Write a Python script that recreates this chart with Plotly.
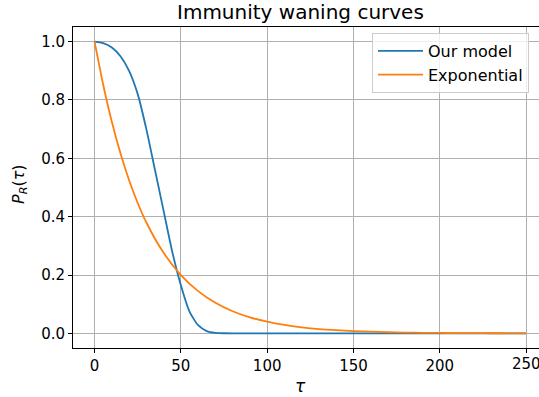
import plotly.graph_objects as go

# ---- data ----
tau_model = [0, 5, 10, 15, 20, 25, 30, 35, 40, 45, 50, 55, 60, 65, 70, 75, 80, 90, 100,
             125, 150, 175, 200, 225, 250]
p_model = [1.0, 0.995, 0.98, 0.95, 0.90, 0.82, 0.70, 0.56, 0.42, 0.28, 0.165, 0.075,
           0.028, 0.008, 0.002, 0.0005, 0.0, 0.0, 0.0, 0.0, 0.0, 0.0, 0.0, 0.0, 0.0]

tau_exp = [0, 5, 10, 15, 20, 25, 30, 40, 50, 60, 70, 80, 90, 100, 110, 120, 130, 140, 150,
           160, 170, 180, 190, 200, 210, 220, 230, 240, 250]
p_exp = [1.0, 0.852, 0.725, 0.617, 0.525, 0.447, 0.38, 0.276, 0.2, 0.145, 0.105, 0.076,
         0.055, 0.04, 0.029, 0.021, 0.015, 0.011, 0.008, 0.006, 0.004, 0.003, 0.002,
         0.0016, 0.0012, 0.0008, 0.0006, 0.0004, 0.0003]

series_names = ["Our model", "Exponential"]
x_ticks = [0, 50, 100, 150, 200, 250]
y_ticks = [0.0, 0.2, 0.4, 0.6, 0.8, 1.0]

FONT = "DejaVu Sans"
W, H = 539, 397
L, R, T, B = 73, 0, 27, 49
PW, PH = W - L - R, H - T - B

fig = go.Figure()
fig.add_trace(go.Scatter(x=tau_model, y=p_model, mode="lines", name=series_names[0],
                         line=dict(color="#1f77b4", width=1.8, shape="spline", smoothing=0.6)))
fig.add_trace(go.Scatter(x=tau_exp, y=p_exp, mode="lines", name=series_names[1],
                         line=dict(color="#ff7f0e", width=1.8, shape="spline", smoothing=0.6)))

axis_common = dict(showgrid=True, gridcolor="#b0b0b0", gridwidth=0.8,
                   showline=True, linecolor="black", linewidth=1,
                   ticks="outside", ticklen=4, tickcolor="black", tickwidth=1,
                   zeroline=False, tickfont=dict(family=FONT, size=15, color="#000"))

annotations = [
    dict(text="Immunity waning curves", xref="paper", yref="paper",
         x=(300 - L) / PW, y=1 + (T - 12) / PH,
         xanchor="center", yanchor="middle", showarrow=False,
         font=dict(family=FONT, size=20, color="#000")),
    dict(text="<i>τ</i>", xref="paper", yref="paper",
         x=(300 - L) / PW, y=-(386 - (T + PH)) / PH,
         xanchor="center", yanchor="middle", showarrow=False,
         font=dict(family=FONT, size=17, color="#000")),
    dict(text="<i>P</i><sub><i>R</i></sub>(<i>τ</i>)", xref="paper", yref="paper",
         x=-(L - 20) / PW, y=1 - (184 - T) / PH,
         xanchor="center", yanchor="middle", showarrow=False, textangle=-90,
         font=dict(family=FONT, size=16, color="#000")),
]
# last x tick label lies at the cut right edge of the figure, as in the reference
last_tick = x_ticks[-1]
annotations.append(dict(text=str(last_tick), x=last_tick, xref="x", yref="paper",
                        y=-(364 - (T + PH)) / PH, xanchor="center", yanchor="middle",
                        showarrow=False, font=dict(family=FONT, size=15, color="#000")))

fig.update_layout(
    width=W, height=H,
    margin=dict(l=L, r=R, t=T, b=B),
    paper_bgcolor="white", plot_bgcolor="white",
    font=dict(family=FONT, color="#000"),
    showlegend=True,
    legend=dict(x=(372 - L) / PW, y=1 - (33 - T) / PH, xanchor="left", yanchor="top",
                bgcolor="rgba(255,255,255,0.8)", bordercolor="#cccccc", borderwidth=1,
                font=dict(family=FONT, size=16, color="#000"),
                tracegroupgap=0, itemwidth=45),
    xaxis=dict(range=[-12.5, 257.5], tickvals=x_ticks, ticktext=[str(v) for v in x_ticks[:-1]] + [""],
               mirror=True, **axis_common),
    yaxis=dict(range=[-0.05, 1.05], tickvals=y_ticks, tickformat=".1f", mirror=False,
               **axis_common),
    annotations=annotations,
)

fig.write_html("out.html")
